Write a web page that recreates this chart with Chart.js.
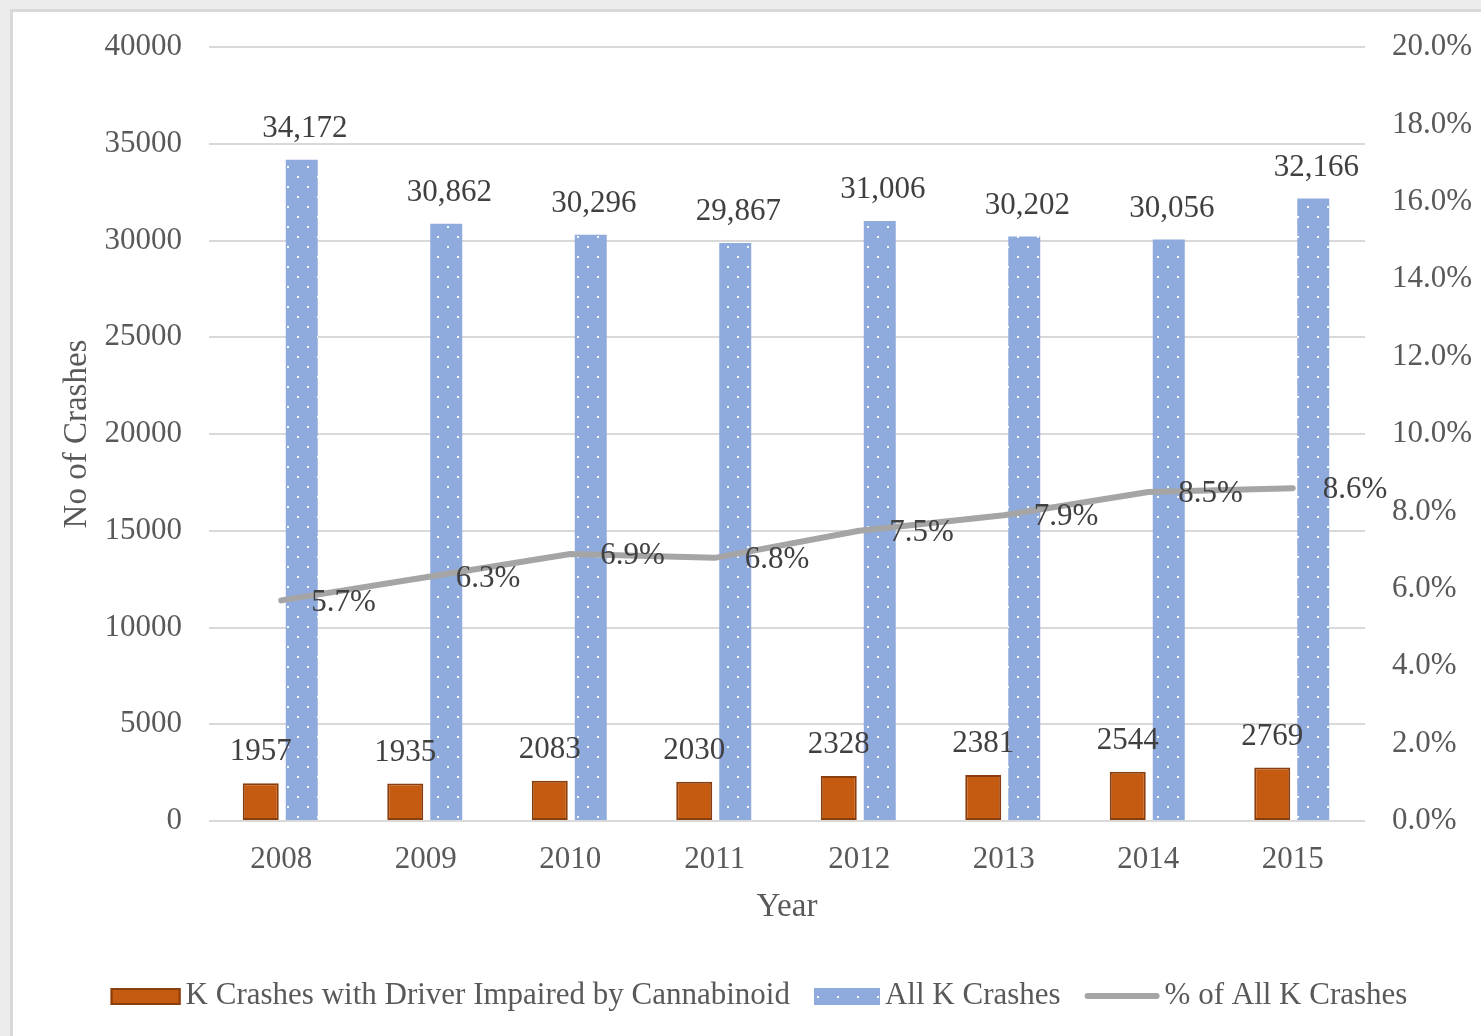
<!DOCTYPE html>
<html><head><meta charset="utf-8">
<script src="https://cdn.jsdelivr.net/npm/chart.js@4.4.1/dist/chart.umd.min.js"></script>
<style>
html,body{margin:0;padding:0;background:#ececec;width:1481px;height:1036px;overflow:hidden}
#frame{position:absolute;left:10px;top:9px;width:1471px;height:1027px;border-left:3px solid #d9d9d9;border-top:3px solid #d9d9d9;background:#fff}
#wrap{position:absolute;left:0;top:0;width:1468px;height:1024px}
</style></head><body>
<div id="frame"><div id="wrap"><canvas id="c" width="1468" height="1024"></canvas></div></div>
<script>
const years = ['2008','2009','2010','2011','2012','2013','2014','2015'];
const cannabinoidCrashes = [1957, 1935, 2083, 2030, 2328, 2381, 2544, 2769];
const allCrashes = [34172, 30862, 30296, 29867, 31006, 30202, 30056, 32166];
const pctOfAllCrashes = [5.7, 6.3, 6.9, 6.8, 7.5, 7.9, 8.5, 8.6];

const FONT = '"Liberation Serif", "Times New Roman", serif';
const TXT = '#595959';

function dotPattern(){
  const p = document.createElement('canvas'); p.width = 20; p.height = 20;
  const g = p.getContext('2d');
  g.fillStyle = '#8FAADC'; g.fillRect(0,0,20,20);
  g.fillStyle = 'rgba(255,255,255,0.95)';
  g.fillRect(4,4,2,2); g.fillRect(14,14,2,2);
  return g.createPattern(p, 'repeat');
}
const bluePattern = dotPattern();

const valueLabels = {
  id: 'valueLabels',
  afterDatasetsDraw(chart){
    const ctx = chart.ctx;
    ctx.save();
    ctx.font = '31px ' + FONT;
    ctx.fillStyle = '#404040';
    chart.data.datasets.forEach((ds, i) => {
      const meta = chart.getDatasetMeta(i);
      meta.data.forEach((el, j) => {
        const v = ds.data[j];
        if (ds.type === 'line') {
          ctx.textAlign = 'left'; ctx.textBaseline = 'middle';
          ctx.fillText(v.toFixed(1) + '%', el.x + 30, el.y + 2);
        } else {
          ctx.textAlign = 'center'; ctx.textBaseline = 'middle';
          const t = ds.thousands ? v.toLocaleString('en-US') : String(v);
          ctx.fillText(t, el.x + (ds.thousands ? 3 : 0), el.y - 31);
        }
      });
    });
    ctx.restore();
  }
};

const rowLegend = {
  id: 'rowLegend',
  afterDraw(chart){
    const ctx = chart.ctx;
    ctx.save();
    ctx.font = '31px ' + FONT;
    const keyW = [70, 66, 75];
    const items = chart.data.datasets.map((ds, i) => ({ds, kw: keyW[i], tw: ctx.measureText(ds.label).width}));
    const gapText = 5, gapItem = 24;
    let total = 0;
    items.forEach((it, i) => { total += it.kw + gapText + it.tw + (i ? gapItem : 0); });
    let x = 746 - total / 2;
    const cy = 984;
    items.forEach((it) => {
      const ds = it.ds;
      if (ds.type === 'line') {
        ctx.strokeStyle = ds.borderColor; ctx.lineWidth = 6; ctx.lineCap = 'round';
        ctx.beginPath(); ctx.moveTo(x + 3, cy); ctx.lineTo(x + it.kw - 3, cy); ctx.stroke();
      } else {
        ctx.fillStyle = ds.backgroundColor;
        ctx.fillRect(x, cy - 8, it.kw, 17);
        if (ds.borderWidth) {
          ctx.strokeStyle = ds.borderColor; ctx.lineWidth = 2;
          ctx.strokeRect(x + 1, cy - 7, it.kw - 2, 15);
        }
      }
      x += it.kw + gapText;
      ctx.fillStyle = TXT; ctx.textAlign = 'left'; ctx.textBaseline = 'middle';
      ctx.fillText(ds.label, x, cy);
      x += it.tw + gapItem;
    });
    ctx.restore();
  }
};

new Chart(document.getElementById('c'), {
  data: {
    labels: years,
    datasets: [
      { type: 'bar', label: 'K Crashes with Driver Impaired by Cannabinoid', data: cannabinoidCrashes,
        backgroundColor: '#C55A11', borderColor: '#8A3D0D', borderWidth: 2, borderSkipped: false,
        categoryPercentage: 0.5675, barPercentage: 0.878, yAxisID: 'y', order: 1 },
      { type: 'bar', label: 'All K Crashes', data: allCrashes, thousands: true,
        backgroundColor: bluePattern, borderWidth: 0,
        categoryPercentage: 0.5675, barPercentage: 0.78, yAxisID: 'y', order: 1 },
      { type: 'line', label: '% of All K Crashes', data: pctOfAllCrashes,
        borderColor: '#A5A5A5', backgroundColor: '#A5A5A5', borderWidth: 6, pointRadius: 0,
        tension: 0, yAxisID: 'y1', order: 0, borderCapStyle: 'round', borderJoinStyle: 'round' }
    ]
  },
  options: {
    responsive: false, animation: false, devicePixelRatio: 1,
    layout: { padding: { left: 0, right: 0, top: 35, bottom: 95 } },
    plugins: { legend: { display: false }, tooltip: { enabled: false } },
    scales: {
      x: {
        grid: { display: false, drawTicks: false }, border: { display: false },
        ticks: { color: TXT, font: { family: FONT, size: 31 }, padding: 20 },
        title: { display: true, text: 'Year', color: TXT, font: { family: FONT, size: 33 }, padding: { top: 0, bottom: 14 } },
        afterFit(s){ s.height = 120; s.paddingLeft = 0; s.paddingRight = 0; }
      },
      y: {
        position: 'left', min: 0, max: 40000,
        grid: { color: '#D9D9D9', lineWidth: 2, drawTicks: false }, border: { display: false },
        ticks: { stepSize: 5000, padding: 27, color: TXT, font: { family: FONT, size: 31 }, callback: v => String(v) },
        title: { display: true, text: 'No of Crashes', color: TXT, font: { family: FONT, size: 33 }, padding: { top: 45, bottom: 0 } },
        afterFit(s){ s.width = 196; s.paddingTop = 0; s.paddingBottom = 0; }
      },
      y1: {
        position: 'right', min: 0, max: 20,
        grid: { display: false, drawTicks: false }, border: { display: false },
        ticks: { stepSize: 2, padding: 27, color: TXT, font: { family: FONT, size: 31 }, callback: v => v.toFixed(1) + '%' },
        afterFit(s){ s.width = 116; s.paddingTop = 0; s.paddingBottom = 0; }
      }
    }
  },
  plugins: [valueLabels, rowLegend]
});
</script>
</body></html>
